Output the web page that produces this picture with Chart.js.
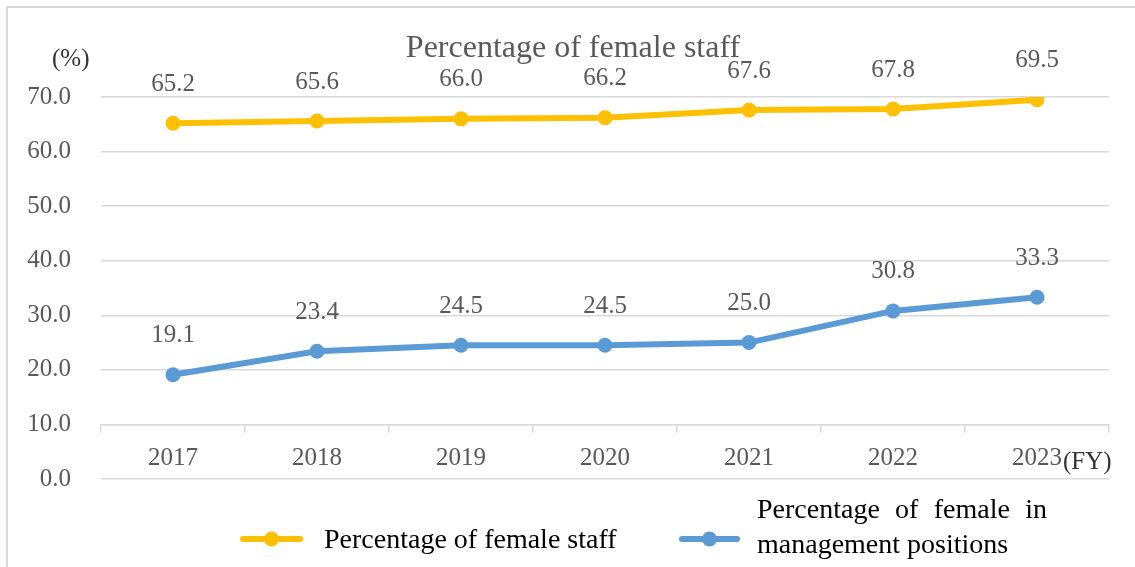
<!DOCTYPE html>
<html>
<head>
<meta charset="utf-8">
<script src="https://cdn.jsdelivr.net/npm/chart.js@4"></script>
<style>
  html, body { margin: 0; padding: 0; background: #fff; }
  #wrap { position: relative; width: 1135px; height: 567px; overflow: hidden; }
  #frame { position: absolute; left: 6px; top: 6px; width: 1200px; height: 700px; border: 2px solid #d9d9d9; box-sizing: border-box; }
  #c { position: absolute; left: 0; top: 0; }
</style>
</head>
<body>
<div id="wrap">
  <div id="frame"></div>
  <canvas id="c" width="1135" height="567"></canvas>
</div>
<script>
const categories = ['2017', '2018', '2019', '2020', '2021', '2022', '2023'];
const femaleStaff = [65.2, 65.6, 66.0, 66.2, 67.6, 67.8, 69.5];
const femaleManagement = [19.1, 23.4, 24.5, 24.5, 25.0, 30.8, 33.3];
const yTicks = [0, 10, 20, 30, 40, 50, 60, 70];
const titleText = 'Percentage of female staff';
const seriesNames = ['Percentage of female staff', ['Percentage of female in', 'management positions']];
const yUnit = '(%)';
const xUnit = '(FY)';

const SERIF = '"Liberation Serif", "Times New Roman", serif';
const GRID = '#d9d9d9';
const TXT = '#595959';

const decor = {
  id: 'decor',
  afterDatasetsDraw(chart) {
    const ctx = chart.ctx;
    ctx.save();
    // data labels
    ctx.font = '25px ' + SERIF;
    ctx.fillStyle = TXT;
    ctx.textAlign = 'center';
    ctx.textBaseline = 'middle';
    chart.data.datasets.forEach((ds, i) => {
      const meta = chart.getDatasetMeta(i);
      meta.data.forEach((pt, j) => {
        ctx.fillText(ds.data[j].toFixed(1), pt.x, pt.y - 39);
      });
    });
    // title
    ctx.font = '32px ' + SERIF;
    ctx.fillStyle = TXT;
    ctx.textBaseline = 'alphabetic';
    ctx.fillText(titleText, 573, 57);
    // units
    ctx.font = '25px ' + SERIF;
    ctx.fillStyle = '#333';
    ctx.textBaseline = 'middle';
    ctx.textAlign = 'left';
    ctx.fillText(yUnit, 52, 59);
    ctx.fillText(xUnit, 1063, 462);

    // legend
    const items = [
      { lx: 243, rx: 300, y: 539, tx: 324 },
      { lx: 682, rx: 737, y: 539, tx: 757 }
    ];
    chart.data.datasets.forEach((ds, i) => {
      const it = items[i];
      ctx.strokeStyle = ds.borderColor;
      ctx.lineWidth = 6;
      ctx.lineCap = 'round';
      ctx.beginPath();
      ctx.moveTo(it.lx, it.y);
      ctx.lineTo(it.rx, it.y);
      ctx.stroke();
      ctx.fillStyle = ds.borderColor;
      ctx.beginPath();
      ctx.arc((it.lx + it.rx) / 2, it.y, 7.5, 0, Math.PI * 2);
      ctx.fill();
      ctx.font = '28px ' + SERIF;
      ctx.fillStyle = '#000';
      ctx.textAlign = 'left';
      ctx.textBaseline = 'alphabetic';
      const lbl = ds.label;
      if (Array.isArray(lbl)) {
        const words = lbl[0].split(' ');
        const target = 290;
        const wsum = words.reduce((s, w) => s + ctx.measureText(w).width, 0);
        const gap = (target - wsum) / (words.length - 1);
        let x = it.tx;
        words.forEach(w => { ctx.fillText(w, x, 518); x += ctx.measureText(w).width + gap; });
        ctx.fillText(lbl[1], it.tx, 553);
      } else {
        ctx.fillText(lbl, it.tx, 548);
      }
    });
    ctx.restore();
  }
};

new Chart(document.getElementById('c'), {
  type: 'line',
  data: {
    labels: categories,
    datasets: [
      {
        label: seriesNames[0],
        data: femaleStaff,
        borderColor: '#FFC000',
        backgroundColor: '#FFC000',
        borderWidth: 6,
        pointRadius: 7.5,
        pointBorderWidth: 0,
        pointBackgroundColor: '#FFC000',
        tension: 0
      },
      {
        label: seriesNames[1],
        data: femaleManagement,
        borderColor: '#5B9BD5',
        backgroundColor: '#5B9BD5',
        borderWidth: 6,
        pointRadius: 7.5,
        pointBorderWidth: 0,
        pointBackgroundColor: '#5B9BD5',
        tension: 0
      }
    ]
  },
  options: {
    responsive: false,
    animation: false,
    devicePixelRatio: 1,
    layout: { padding: { left: 0, right: 26, top: 97, bottom: 88 } },
    plugins: {
      legend: { display: false },
      title: { display: false },
      tooltip: { enabled: false }
    },
    scales: {
      y: {
        min: 0,
        max: 70,
        afterBuildTicks(scale) { scale.ticks = yTicks.map(v => ({ value: v })); },
        afterFit(scale) { scale.width = 101; },
        grid: { color: GRID, lineWidth: 1.5, drawTicks: false },
        border: { display: false },
        ticks: {
          padding: 30,
          color: TXT,
          font: { family: SERIF, size: 25 },
          callback: v => Number(v).toFixed(1)
        }
      },
      x: {
        position: { y: 10 },
        offset: true,
        grid: { drawOnChartArea: false, color: GRID, lineWidth: 1.5, tickLength: 7, offset: true },
        border: { display: true, color: GRID, width: 1.5 },
        ticks: {
          padding: 12,
          color: TXT,
          maxRotation: 0,
          font: { family: SERIF, size: 25 }
        }
      }
    }
  },
  plugins: [decor]
});
</script>
</body>
</html>
